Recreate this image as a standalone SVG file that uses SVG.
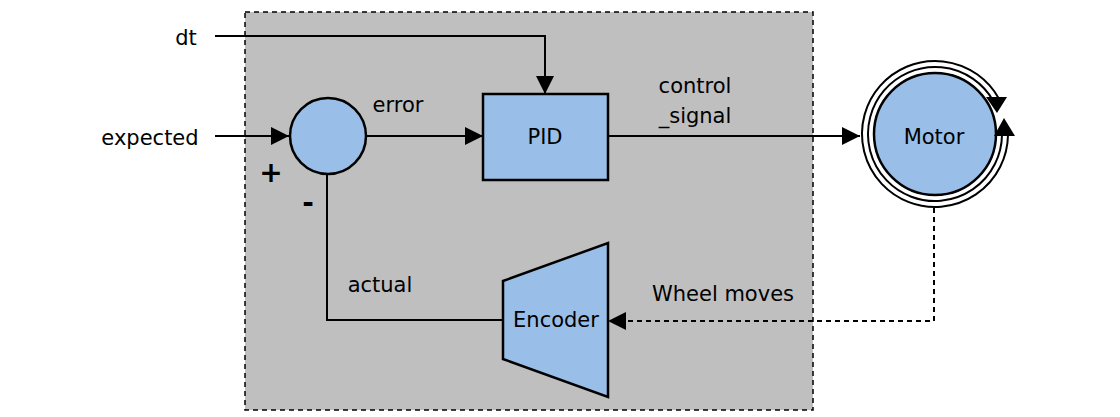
<svg xmlns="http://www.w3.org/2000/svg" width="1120" height="417" viewBox="0 0 1120 417">
<defs>
<style>
text{font-family:"Comic Sans MS","DejaVu Sans",sans-serif;font-size:21px;fill:#000}
.c{text-anchor:middle;dominant-baseline:central}
.n{fill:#99bfe8;stroke:#000;stroke-width:2.5}
.e{fill:none;stroke:#000;stroke-width:2}
.r{fill:none;stroke:#000;stroke-width:2}
</style>
<marker id="b" viewBox="0 0 10 10" refX="10" refY="5" markerWidth="18" markerHeight="18" markerUnits="userSpaceOnUse" orient="auto"><path d="M0,0L10,5L0,10z" fill="#000"/></marker>
</defs>
<rect x="245" y="12" width="568" height="398" fill="#bfbfbf" stroke="#000" stroke-width="1.5" stroke-dasharray="5,4"/>
<g id="connectors">
<path class="e" d="M215,136H289" marker-end="url(#b)"/>
<path class="e" d="M215,36H545V94" marker-end="url(#b)" stroke-width="1.5"/>
<path class="e" d="M366,136H483" marker-end="url(#b)"/>
<path class="e" d="M608,136H860" marker-end="url(#b)"/>
<path class="e" d="M934,208V321H608" stroke-dasharray="5,4" stroke-width="1.5" marker-end="url(#b)"/>
<path class="e" d="M503,320H327V175"/>
</g>
<g id="labels">
<text class="c" x="150" y="138">expected</text>
<text class="c" x="186" y="38">dt</text>
<text class="c" x="398" y="105">error</text>
<text class="c" x="695" y="86">control</text>
<text class="c" x="695" y="116">_signal</text>
<text class="c" x="723" y="294">Wheel moves</text>
<text class="c" x="380" y="285">actual</text>
<text class="c" x="271" y="172" style="font-size:28px;font-weight:bold">+</text>
<text class="c" x="308" y="202" style="font-size:28px;font-weight:bold">-</text>
</g>
<g id="sum"><circle class="n" cx="328" cy="136" r="38"/></g>
<g id="pid"><rect class="n" x="483" y="94" width="125" height="86"/><text class="c" x="545" y="137">PID</text></g>
<g id="encoder"><path class="n" d="M503,281L608,243V397L503,359Z"/><text class="c" x="556" y="320">Encoder</text></g>
<g id="motor">
<path class="r" d="M999.1,99A73,73 0 1 0 1008,135"/>
<path class="r" d="M993.3,101A67,67 0 1 0 1002,135"/>
<circle class="n" cx="935" cy="134" r="61"/>
<path d="M986,97H1007L997,113Z" fill="#000"/>
<path d="M994,136H1015L1004,118Z" fill="#000"/>
<text class="c" x="934" y="137">Motor</text>
</g>
</svg>
